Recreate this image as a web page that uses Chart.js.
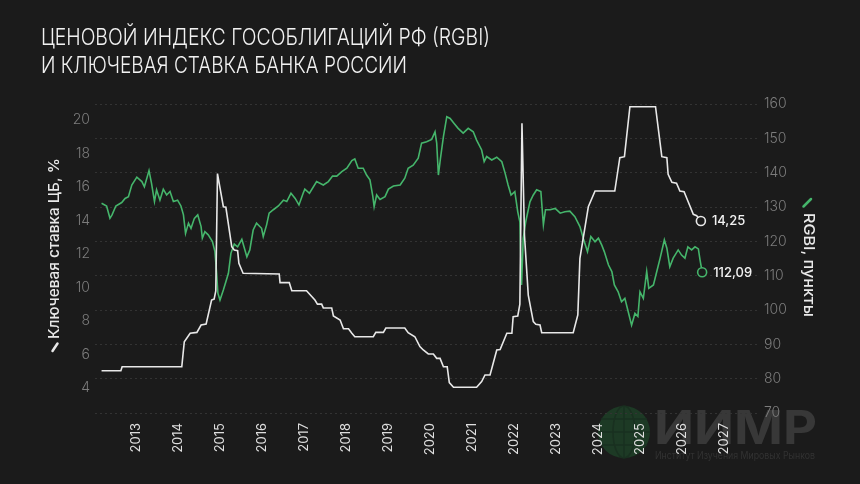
<!DOCTYPE html>
<html lang="ru">
<head>
<meta charset="utf-8">
<script src="https://cdn.jsdelivr.net/npm/chart.js@4.4.1/dist/chart.umd.min.js"></script>
<style>
html, body { margin: 0; padding: 0; background: #1b1b1b; }
#wrap { width: 860px; height: 484px; position: relative; }
</style>
</head>
<body>
<div id="wrap"><canvas id="chart"></canvas></div>
<script>
// key rate, % (left axis)
var rateX = [2012.18, 2012.64, 2012.67, 2014.09, 2014.15, 2014.29, 2014.45, 2014.55, 2014.67, 2014.80,
  2014.86, 2014.90, 2014.94, 2015.08, 2015.14, 2015.28, 2015.34, 2015.42, 2015.45, 2015.55,
  2016.41, 2016.43, 2016.65, 2016.71, 2017.06, 2017.26, 2017.32, 2017.42, 2017.46, 2017.66,
  2017.70, 2017.86, 2017.94, 2018.06, 2018.14, 2018.21, 2018.65, 2018.71, 2018.89, 2018.95,
  2019.40, 2019.48, 2019.64, 2019.76, 2019.84, 2019.96, 2020.08, 2020.16, 2020.24, 2020.32,
  2020.41, 2020.46, 2020.56, 2021.11, 2021.23, 2021.31, 2021.43, 2021.59, 2021.67, 2021.83,
  2021.95, 2021.98, 2022.09, 2022.14, 2022.19, 2022.25, 2022.34, 2022.46, 2022.52, 2022.62,
  2022.66, 2023.41, 2023.52, 2023.57, 2023.77, 2023.93, 2024.40, 2024.52, 2024.63, 2024.76,
  2025.37, 2025.52, 2025.64, 2025.67, 2025.76, 2025.87, 2025.95, 2026.05, 2026.14, 2026.27,
  2026.35, 2026.45]
var rateY = [5.03, 5.03, 5.27, 5.27, 6.76, 7.27, 7.32, 7.76, 7.82, 9.25,
  9.31, 9.8, 16.8, 14.82, 14.79, 12.44, 12.24, 12.2, 11.44, 10.85,
  10.81, 10.29, 10.29, 9.81, 9.81, 9.25, 9.01, 9.01, 8.78, 8.78,
  8.30, 8.06, 7.54, 7.54, 7.27, 7.06, 7.06, 7.32, 7.32, 7.58,
  7.58, 7.30, 7.06, 6.47, 6.27, 6.03, 6.03, 5.77, 5.77, 5.27,
  5.27, 4.32, 4.04, 4.04, 4.38, 4.78, 4.78, 6.27, 6.3, 7.27,
  7.27, 8.26, 8.3, 9.0, 19.8, 13.1, 9.55, 7.96, 7.8, 7.76,
  7.30, 7.30, 8.36, 11.74, 14.82, 15.76, 15.76, 17.75, 17.81, 20.79,
  20.79, 17.81, 17.75, 16.76, 16.28, 16.23, 15.76, 15.72, 15.16, 14.37,
  14.29, 13.97]

// RGBI, points (right axis)
var rgbiX = [2012.18, 2012.30, 2012.38, 2012.43, 2012.52, 2012.66, 2012.74, 2012.82, 2012.90, 2013.02,
  2013.14, 2013.20, 2013.31, 2013.37, 2013.44, 2013.49, 2013.57, 2013.65, 2013.73, 2013.81,
  2013.89, 2013.99, 2014.07, 2014.13, 2014.18, 2014.25, 2014.31, 2014.39, 2014.47, 2014.55,
  2014.58, 2014.64, 2014.72, 2014.82, 2014.88, 2014.92, 2014.95, 2015.00, 2015.08, 2015.14,
  2015.20, 2015.26, 2015.34, 2015.42, 2015.52, 2015.64, 2015.71, 2015.79, 2015.87, 2015.99,
  2016.03, 2016.11, 2016.17, 2016.27, 2016.39, 2016.51, 2016.59, 2016.69, 2016.79, 2016.88,
  2016.98, 2017.02, 2017.13, 2017.30, 2017.46, 2017.58, 2017.68, 2017.78, 2017.90, 2018.02,
  2018.14, 2018.21, 2018.29, 2018.41, 2018.49, 2018.57, 2018.64, 2018.67, 2018.73, 2018.81,
  2018.93, 2019.01, 2019.13, 2019.29, 2019.40, 2019.48, 2019.60, 2019.72, 2019.80, 2019.92,
  2020.04, 2020.12, 2020.16, 2020.20, 2020.25, 2020.32, 2020.40, 2020.48, 2020.57, 2020.67,
  2020.79, 2020.91, 2021.03, 2021.11, 2021.23, 2021.29, 2021.35, 2021.47, 2021.59, 2021.71,
  2021.79, 2021.86, 2021.93, 2022.02, 2022.09, 2022.14, 2022.18, 2022.22, 2022.28, 2022.38,
  2022.46, 2022.54, 2022.64, 2022.67, 2022.70, 2022.75, 2022.86, 2022.98, 2023.10, 2023.21,
  2023.33, 2023.45, 2023.57, 2023.65, 2023.75, 2023.83, 2023.93, 2024.01, 2024.09, 2024.15,
  2024.25, 2024.33, 2024.39, 2024.48, 2024.56, 2024.64, 2024.72, 2024.80, 2024.88, 2024.95,
  2025.00, 2025.08, 2025.16, 2025.21, 2025.32, 2025.40, 2025.48, 2025.58, 2025.64, 2025.71,
  2025.79, 2025.91, 2025.99, 2026.07, 2026.14, 2026.23, 2026.31, 2026.39, 2026.43, 2026.48]
var rgbiY = [131.1, 130.3, 126.7, 127.7, 130.3, 131.3, 132.5, 133.0, 136.4, 138.7,
  137.4, 135.9, 140.6, 136.9, 131.6, 135.0, 132.0, 135.2, 133.5, 134.5,
  131.6, 132.0, 130.3, 127.7, 122.3, 125.3, 123.8, 126.7, 127.7, 124.3,
  120.9, 122.8, 121.9, 119.9, 117.0, 110.7, 104.9, 102.9, 105.8, 108.2,
  110.7, 116.5, 119.2, 118.4, 120.6, 115.5, 117.5, 123.3, 125.3, 123.8,
  121.4, 124.8, 128.2, 129.2, 130.3, 132.0, 131.6, 134.0, 132.5, 130.6,
  134.0, 135.2, 134.0, 137.4, 136.4, 137.4, 139.0, 139.0, 140.3, 141.3,
  143.5, 144.0, 141.3, 141.3, 139.3, 137.9, 133.0, 130.1, 133.5, 132.2,
  133.0, 135.2, 136.1, 136.4, 138.4, 141.3, 142.2, 144.2, 148.6, 149.0,
  149.7, 151.9, 148.6, 139.3, 144.2, 150.5, 156.3, 155.8, 154.4, 152.9,
  151.5, 152.9, 151.9, 149.5, 146.6, 143.2, 144.7, 143.7, 144.5, 143.2,
  139.8, 136.4, 133.5, 134.5, 128.6, 125.7, 107.3, 120.9, 125.7, 131.5,
  133.5, 135.0, 134.5, 129.6, 124.8, 129.2, 129.2, 129.6, 128.2, 128.6,
  128.8, 127.2, 124.3, 120.9, 117.0, 121.4, 119.9, 120.9, 118.9, 117.0,
  113.1, 111.2, 107.3, 105.3, 102.4, 103.4, 99.5, 95.6, 99.0, 98.1,
  105.3, 103.4, 111.2, 106.3, 107.3, 111.2, 115.1, 120.4, 118.0, 112.6,
  115.1, 117.5, 116.0, 115.1, 118.4, 117.5, 118.4, 117.8, 114.6, 111.0]

var rateTicks = [4, 6, 8, 10, 12, 14, 16, 18, 20]
var rgbiTicks = [70, 80, 90, 100, 110, 120, 130, 140, 150, 160]
var yearTicks = [2013, 2014, 2015, 2016, 2017, 2018, 2019, 2020, 2021, 2022, 2023, 2024, 2025, 2026, 2027]
var endLabels = ['14,25', '112,09']

var BG = '#1b1b1b'
var WHITE = '#e8e8e8'
var GREEN = '#45b56b'
var FONT = 'Inter, "Noto Sans", sans-serif'

function pairs(xs, ys) {
  return xs.map(function(x, i) { return { x: x, y: ys[i] } })
}

function lastPoint(ctx) {
  return ctx.dataIndex === ctx.dataset.data.length - 1 ? 4.5 : 0
}

// text squeezed/stretched to a given length
function fitText(ctx, text, font, len, x, y, rot) {
  ctx.save()
  ctx.font = font
  var w = ctx.measureText(text).width
  ctx.translate(x, y)
  ctx.rotate(rot)
  ctx.scale(len / w, 1)
  ctx.fillText(text, 0, 0)
  ctx.restore()
}

var decor = {
  id: 'decor',
  beforeDraw: function(chart) {
    var ctx = chart.ctx
    ctx.save()
    ctx.fillStyle = BG
    ctx.fillRect(0, 0, chart.width, chart.height)

    // watermark
    ctx.fillStyle = '#1d3a25'
    ctx.beginPath()
    ctx.arc(624, 432, 26, 0, Math.PI * 2)
    ctx.fill()
    ctx.strokeStyle = '#193020'
    ctx.lineWidth = 1.5
    ctx.beginPath()
    ctx.ellipse(624, 432, 11, 26, 0, 0, Math.PI * 2)
    ctx.moveTo(624, 406); ctx.lineTo(624, 458)
    ctx.moveTo(598, 432); ctx.lineTo(650, 432)
    ctx.moveTo(601, 419); ctx.lineTo(647, 419)
    ctx.moveTo(601, 445); ctx.lineTo(647, 445)
    ctx.stroke()
    ctx.fillStyle = '#383838'
    ctx.textBaseline = 'alphabetic'
    fitText(ctx, 'ИИМР', '700 46px ' + FONT, 163, 654, 444, 0)
    ctx.fillStyle = '#323232'
    fitText(ctx, 'Институт Изучения Мировых Рынков', '400 10px ' + FONT, 160, 655, 459, 0)
    ctx.restore()
  },
  afterDraw: function(chart) {
    var ctx = chart.ctx
    ctx.save()
    ctx.textBaseline = 'alphabetic'
    ctx.fillStyle = '#f2f2f2'
    fitText(ctx, 'ЦЕНОВОЙ ИНДЕКС ГОСОБЛИГАЦИЙ РФ (RGBI)', '300 23px ' + FONT, 449, 41, 45, 0)
    fitText(ctx, 'И КЛЮЧЕВАЯ СТАВКА БАНКА РОССИИ', '300 23px ' + FONT, 366, 41, 73, 0)

    // axis titles with marks
    ctx.fillStyle = WHITE
    fitText(ctx, 'Ключевая ставка ЦБ, %', '500 15px ' + FONT, 181, 59, 339, -Math.PI / 2)
    fitText(ctx, 'RGBI, пункты', '500 15px ' + FONT, 104, 804, 213, Math.PI / 2)
    ctx.lineCap = 'round'
    ctx.lineWidth = 2.5
    ctx.strokeStyle = WHITE
    ctx.beginPath(); ctx.moveTo(52.5, 351); ctx.lineTo(57.5, 343.5); ctx.stroke()
    ctx.strokeStyle = GREEN
    ctx.beginPath(); ctx.moveTo(803.5, 206.5); ctx.lineTo(811, 199); ctx.stroke()

    // end value labels
    ctx.font = '500 13px ' + FONT
    ctx.textBaseline = 'middle'
    ctx.fillStyle = '#f2f2f2'
    chart.data.datasets.forEach(function(ds, i) {
      var pts = chart.getDatasetMeta(i).data
      var p = pts[pts.length - 1]
      ctx.fillText(endLabels[i], p.x + 11, p.y + 0.5)
    })
    ctx.restore()
  }
}

var tickFont = { family: FONT, size: 14, weight: 300 }

new Chart(document.getElementById('chart'), {
  type: 'line',
  data: {
    datasets: [{
      data: pairs(rateX, rateY),
      yAxisID: 'y',
      borderColor: WHITE,
      borderWidth: 1.6,
      pointRadius: lastPoint,
      pointHoverRadius: 0,
      pointBackgroundColor: BG,
      pointBorderColor: WHITE,
      pointBorderWidth: 1.6,
      tension: 0
    }, {
      data: pairs(rgbiX, rgbiY),
      yAxisID: 'y1',
      borderColor: GREEN,
      borderWidth: 1.6,
      pointRadius: lastPoint,
      pointHoverRadius: 0,
      pointBackgroundColor: BG,
      pointBorderColor: GREEN,
      pointBorderWidth: 1.6,
      tension: 0
    }]
  },
  options: {
    responsive: true,
    maintainAspectRatio: false,
    animation: false,
    events: [],
    layout: { padding: { top: 104, left: 0, right: 0, bottom: 0 } },
    plugins: { legend: { display: false }, title: { display: false }, tooltip: { enabled: false } },
    scales: {
      x: {
        type: 'linear',
        min: 2012.024,
        max: 2027.81,
        afterBuildTicks: function(s) { s.ticks = yearTicks.map(function(v) { return { value: v } }) },
        afterFit: function(s) { s.height = 71 },
        grid: { display: false, drawTicks: false },
        border: { display: false },
        ticks: {
          color: '#dedede',
          font: { family: FONT, size: 13, weight: 400 },
          minRotation: 90,
          maxRotation: 90,
          padding: 10,
          autoSkip: false,
          callback: function(v) { return String(v) }
        }
      },
      y: {
        position: 'left',
        min: 2.507,
        max: 20.955,
        afterBuildTicks: function(s) { s.ticks = rateTicks.map(function(v) { return { value: v } }) },
        afterFit: function(s) { s.width = 95 },
        grid: { display: false, drawTicks: false },
        border: { display: false },
        ticks: { color: '#7c7c7c', font: tickFont, padding: 5, callback: function(v) { return String(v) } }
      },
      y1: {
        position: 'right',
        min: 70,
        max: 160,
        afterBuildTicks: function(s) { s.ticks = rgbiTicks.map(function(v) { return { value: v } }) },
        afterFit: function(s) { s.width = 102 },
        grid: { color: '#333333', lineWidth: 1, drawTicks: false },
        border: { display: false, dash: [2, 3] },
        ticks: { color: '#7c7c7c', font: tickFont, padding: 6, callback: function(v) { return String(v) } }
      }
    }
  },
  plugins: [decor]
})
</script>
</body>
</html>
